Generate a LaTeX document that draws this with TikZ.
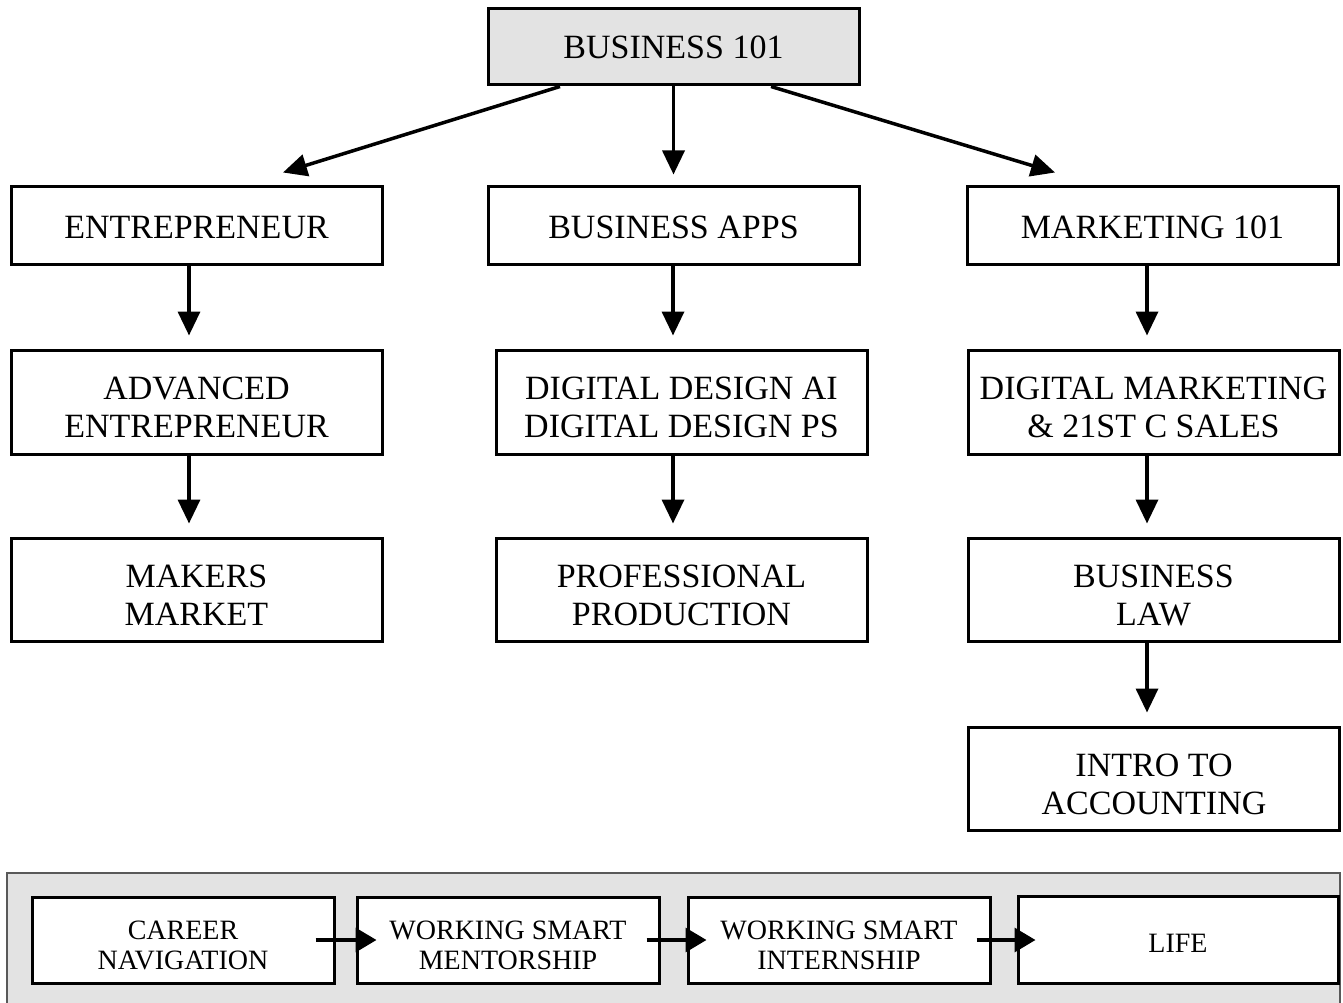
\documentclass[tikz,border=0pt]{standalone}
\usepackage{fontspec}
\setmainfont{Liberation Serif}
\usetikzlibrary{arrows.meta}

\tikzset{
  course/.style={draw, line width=3pt, fill=white, align=center,
    minimum width=371pt, text height=27pt, font=\fontsize{34}{38}\selectfont},
  twoline/.style={text height=72pt},
  pathbox/.style={draw, line width=3pt, fill=white, align=center,
    minimum width=302pt, minimum height=86pt, text height=60pt,
    font=\fontsize{28}{30}\selectfont},
  arr/.style={line width=3.5pt, -{Triangle[length=24pt,width=22pt]}},
  sidearr/.style={line width=3.5pt, -{Triangle[length=21pt,width=24pt]}}
}

\begin{document}
\begin{tikzpicture}[x=1pt,y=-1pt]
        \useasboundingbox (0,0) rectangle (1343,1003);

        % top course
        \node[course, fill=gray!22, minimum height=76pt, text height=23pt] (b101) at (673.5,47) {BUSINESS 101};

        % first row
        \node[course, minimum height=77pt] (ent) at (196.5,225.5) {ENTREPRENEUR};
        \node[course, minimum height=77pt] (apps) at (673.5,225.5) {BUSINESS APPS};
        \node[course, minimum height=77pt] (mkt) at (1152.5,225.5) {MARKETING 101};

        % second row
        \node[course, twoline, minimum height=104pt] (adv) at (196.5,402) {ADVANCED\\ENTREPRENEUR};
        \node[course, twoline, minimum height=104pt] (dd) at (681.5,402) {DIGITAL DESIGN AI\\DIGITAL DESIGN PS};
        \node[course, twoline, minimum height=104pt] (dm) at (1153.5,402) {DIGITAL MARKETING\\\& 21ST C SALES};

        % third row
        \node[course, twoline, minimum height=103pt] (makers) at (196.5,589.5) {MAKERS\\MARKET};
        \node[course, twoline, minimum height=103pt] (prof) at (681.5,589.5) {PROFESSIONAL\\PRODUCTION};
        \node[course, twoline, minimum height=103pt] (law) at (1153.5,589.5) {BUSINESS\\LAW};

        \node[course, twoline, minimum height=103pt] (acct) at (1154,778.5) {INTRO TO\\ACCOUNTING};

        \draw[arr] ([xshift=-113.5pt]b101.south) -- ([xshift=86.5pt,yshift=13pt]ent.north);
        \draw[arr] (b101.south) -- ([yshift=11pt]apps.north);
        \draw[arr] ([xshift=97.5pt]b101.south) -- ([xshift=-97.5pt,yshift=13pt]mkt.north);

        \draw[arr, shorten >=13pt] ([xshift=-7.5pt]ent.south) -- ([xshift=-7.5pt]ent.south |- adv.north);
        \draw[arr, shorten >=13pt] ([xshift=-7.5pt]adv.south) -- ([xshift=-7.5pt]adv.south |- makers.north);
        \draw[arr, shorten >=13pt] ([xshift=-0.5pt]apps.south) -- ([xshift=-0.5pt]apps.south |- dd.north);
        \draw[arr, shorten >=13pt] ([xshift=-8.5pt]dd.south) -- ([xshift=-8.5pt]dd.south |- prof.north);
        \draw[arr, shorten >=13pt] ([xshift=-5.5pt]mkt.south) -- ([xshift=-5.5pt]mkt.south |- dm.north);
        \draw[arr, shorten >=13pt] ([xshift=-6.5pt]dm.south) -- ([xshift=-6.5pt]dm.south |- law.north);
        \draw[arr, shorten >=13pt] ([xshift=-6.5pt]law.south) -- ([xshift=-6.5pt]law.south |- acct.north);

        % career path strip
        \draw[line width=2pt, draw=gray!70!black, fill=gray!22] (7,873) rectangle (1340,1010);

        \node[pathbox] (career) at (183,940) {CAREER\\NAVIGATION};
        \node[pathbox] (mentor) at (508,940) {WORKING SMART\\MENTORSHIP};
        \node[pathbox] (intern) at (839,940) {WORKING SMART\\INTERNSHIP};
        \node[pathbox, minimum width=320pt, minimum height=87pt, text height=24pt] (life) at (1178,940) {LIFE};

        \draw[sidearr] ([xshift=-20pt]career.east) -- ([xshift=21pt]mentor.west);
        \draw[sidearr] ([xshift=-14pt]mentor.east) -- ([xshift=20pt]intern.west);
        \draw[sidearr] ([xshift=-15pt]intern.east) -- ([xshift=19pt]life.west);

    \end{tikzpicture}
\end{document}
